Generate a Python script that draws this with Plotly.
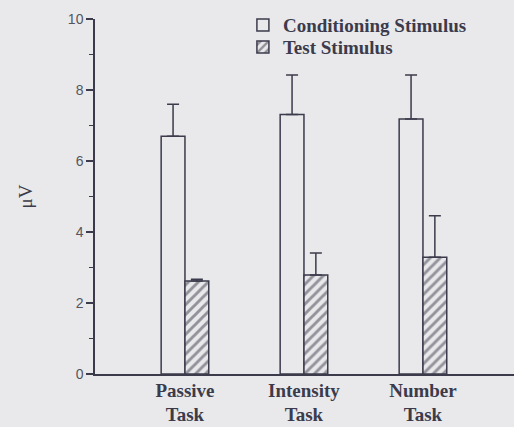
import plotly.graph_objects as go

categories = ["Passive<br>Task", "Intensity<br>Task", "Number<br>Task"]
cond_values = [6.70, 7.31, 7.18]
cond_err = [0.90, 1.11, 1.24]
test_values = [2.62, 2.79, 3.29]
test_err = [0.05, 0.62, 1.17]
series_names = ["Conditioning Stimulus", "Test Stimulus"]
y_ticks = [0, 2, 4, 6, 8, 10]

BG = "#e9e9eb"
INK = "#3b3b4c"
xpos = list(range(len(categories)))

fig = go.Figure()
fig.add_trace(go.Bar(
    x=xpos, y=cond_values, name=series_names[0], legend="legend",
    marker=dict(color=BG, line=dict(color=INK, width=1.5)),
    error_y=dict(type="data", array=cond_err, arrayminus=[0] * 3, symmetric=False,
                 color=INK, thickness=1.5, width=6),
))
fig.add_trace(go.Bar(
    x=xpos, y=test_values, name=series_names[1], legend="legend2",
    marker=dict(color=BG, line=dict(color=INK, width=1.5),
                pattern=dict(shape="/", fgcolor=INK, bgcolor=BG, size=7, solidity=0.42)),
    error_y=dict(type="data", array=test_err, arrayminus=[0] * 3, symmetric=False,
                 color=INK, thickness=1.5, width=6),
))

legend_font = dict(family="Liberation Serif", size=19, color=INK, weight="bold")
fig.update_layout(
    width=514, height=427,
    margin=dict(l=95, r=0, t=19, b=53, autoexpand=False),
    paper_bgcolor=BG, plot_bgcolor=BG,
    barmode="group", bargap=0.6, bargroupgap=0,
    showlegend=True,
    legend=dict(x=0.353, y=0.983, xanchor="left", yanchor="middle",
                bgcolor="rgba(0,0,0,0)", font=legend_font),
    legend2=dict(x=0.353, y=0.921, xanchor="left", yanchor="middle",
                 bgcolor="rgba(0,0,0,0)", font=legend_font),
    xaxis=dict(
        range=[-0.756, 2.765], tickmode="array", tickvals=xpos, ticktext=categories,
        showline=True, linecolor=INK, linewidth=1.5, ticks="", showgrid=False,
        zeroline=False, automargin=False, ticklabelstandoff=-2,
        tickfont=dict(family="Liberation Serif", size=19, color=INK, weight="bold"),
    ),
    yaxis=dict(
        range=[0, 10], tickmode="array", tickvals=y_ticks,
        showline=True, linecolor=INK, linewidth=1.5, ticks="outside", ticklen=7,
        tickwidth=1.5, tickcolor=INK, showgrid=False, zeroline=False, automargin=False,
        tickfont=dict(family="Liberation Sans", size=14, color="#555560"),
        minor=dict(tickmode="array", tickvals=[1, 3, 5, 7, 9], ticks="outside",
                   ticklen=4, tickwidth=1.2, tickcolor=INK, showgrid=False),
        title=dict(text="μV", standoff=30,
                   font=dict(family="Liberation Serif", size=19, color=INK)),
    ),
)

fig.write_html("out.html")
